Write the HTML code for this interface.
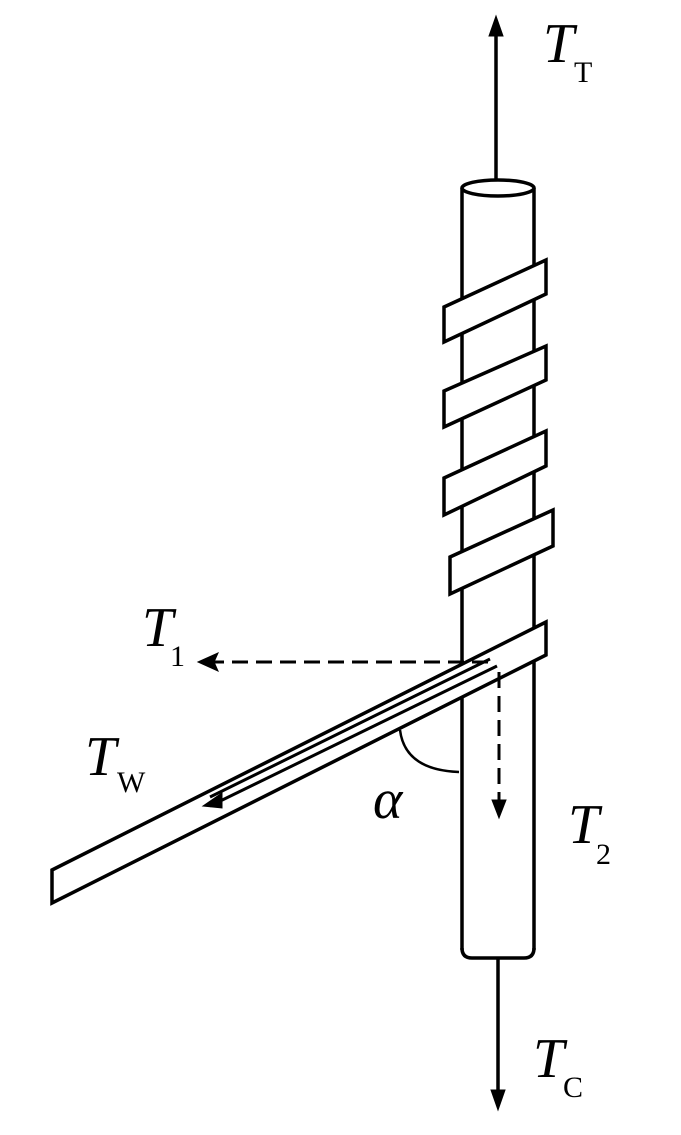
<!DOCTYPE html>
<html><head><style>
html,body{margin:0;padding:0;background:#fff;}
svg{display:block;}
text{font-family:"Liberation Serif",serif;fill:#000;}
.m{font-style:italic;font-size:56px;}
.s{font-size:30px;}
</style></head><body>
<svg width="681" height="1135" viewBox="0 0 681 1135" xmlns="http://www.w3.org/2000/svg">
<defs>
<marker id="ah" viewBox="0 0 10 10" refX="9" refY="5" markerWidth="7" markerHeight="7" orient="auto-start-reverse" markerUnits="userSpaceOnUse">
<path d="M0,0 L10,5 L0,10 z" fill="#000"/>
</marker>
</defs>
<g stroke="#000" stroke-width="3.5" fill="none">
<!-- top arrow -->
<line x1="496" y1="186" x2="496" y2="20"/>
<path d="M489,36 L496,16 L503,36 z" fill="#000" stroke-width="1"/>
<!-- cylinder -->
<line x1="462" y1="188" x2="462" y2="950"/>
<line x1="534" y1="188" x2="534" y2="950"/>
<ellipse cx="498" cy="188" rx="36" ry="8" fill="#fff"/>
<path d="M462,948 Q462,958 472,958 L524,958 Q534,958 534,948"/>
<!-- bottom arrow -->
<line x1="498" y1="958" x2="498" y2="1105"/>
<path d="M491,1090 L498,1110 L505,1090 z" fill="#000" stroke-width="1"/>
<!-- bands -->
<polygon points="444,307 546,260 546,294 444,342" fill="#fff"/>
<polygon points="444,391 546,346 546,380 444,427" fill="#fff"/>
<polygon points="444,478 546,431 546,466 444,515" fill="#fff"/>
<polygon points="450,557 553,510 553,546 450,594" fill="#fff"/>
<!-- lower strap -->
<polygon points="52,870 546,622 546,655 52,903" fill="#fff"/>
<line x1="210" y1="797" x2="490" y2="659" stroke-width="3"/>
<line x1="210" y1="806" x2="497" y2="666" stroke-width="3"/>
<path d="M203,806 L222,793 L222,808 z" fill="#000" stroke-width="1"/>
<!-- dashed horizontal -->
<line x1="488" y1="662" x2="212" y2="662" stroke-dasharray="16,8" stroke-width="3"/>
<path d="M198,662 L218,653 L214,662 L218,671 z" fill="#000" stroke-width="1"/>
<!-- dashed vertical -->
<line x1="499" y1="672" x2="499" y2="805" stroke-dasharray="16,8" stroke-width="3"/>
<path d="M492,800 L499,818 L506,800 z" fill="#000" stroke-width="1"/>
<!-- angle arc -->
<path d="M400,730 Q405,770 459,772" stroke-width="2.5"/>
</g>
<text class="m" x="543" y="62">T</text><text class="s" x="574" y="82">T</text>
<text class="m" x="142" y="646">T</text><text class="s" x="170" y="666">1</text>
<text class="m" x="85" y="775">T</text><text class="s" x="117" y="792">W</text>
<text class="m" x="568" y="843">T</text><text class="s" x="596" y="864">2</text>
<text class="m" x="533" y="1077">T</text><text class="s" x="563" y="1097">C</text>
<text class="m" x="373" y="818">α</text>
</svg>
</body></html>
